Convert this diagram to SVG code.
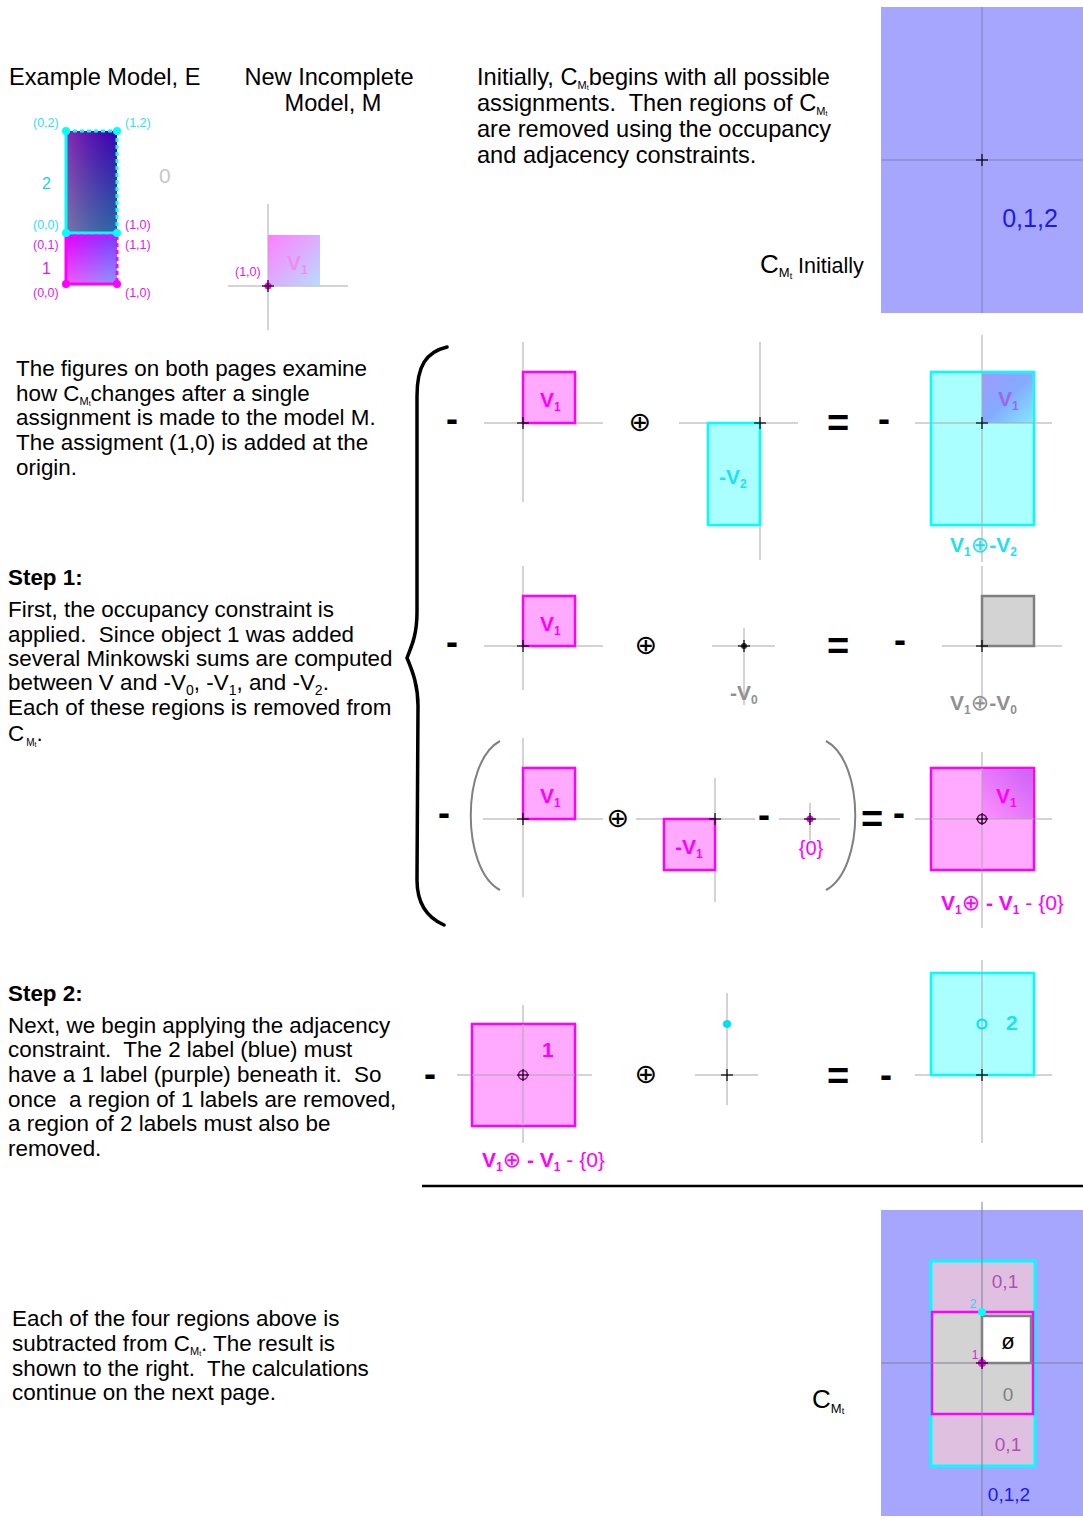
<svg xmlns="http://www.w3.org/2000/svg" xmlns:xlink="http://www.w3.org/1999/xlink" width="1083" height="1522" viewBox="0 0 1083 1522">
<defs>
<style>
.t{font-family:"Liberation Sans",Arial,sans-serif;font-size:22.4px;fill:#000;white-space:pre}
.h{font-size:23.6px}
.b{font-weight:bold}
.ax{stroke:#a8a8a8;stroke-width:1;fill:none}
.cr{stroke:#000;stroke-width:1.2;fill:none}
.mag{fill:#ffaaff;stroke:#ff00ff;stroke-width:2.5}
.cyn{fill:#aaffff;stroke:#00ffff;stroke-width:2.5}
.lbl{font-family:"Liberation Sans",Arial,sans-serif;font-weight:bold;font-size:21px}
.sm{font-family:"Liberation Sans",Arial,sans-serif;font-size:12.5px}
.op{font-family:"DejaVu Sans",sans-serif;font-size:27px;fill:#000}
.opi{font-family:"DejaVu Sans",sans-serif;font-size:22px;font-weight:normal}
.mi{font-family:"Liberation Sans",Arial,sans-serif;font-weight:bold;font-size:36px;fill:#000}
.eq{font-family:"Liberation Sans",Arial,sans-serif;font-weight:bold;font-size:38px;fill:#000}
.blue{fill:#a6a6ff}
</style>
<g id="cross"><line class="cr" x1="-6" y1="0" x2="6" y2="0"/><line class="cr" x1="0" y1="-6" x2="0" y2="6"/></g>
<linearGradient id="gTopV" x1="0" y1="0" x2="0" y2="1"><stop offset="0" stop-color="#5a00b0"/><stop offset="1" stop-color="#40a0a0"/></linearGradient>
<linearGradient id="gTopH" x1="0" y1="0" x2="1" y2="0"><stop offset="0" stop-color="#b050b0" stop-opacity="0.55"/><stop offset="1" stop-color="#0000b0" stop-opacity="0.35"/></linearGradient>
<linearGradient id="gBotV" x1="0" y1="0" x2="0" y2="1"><stop offset="0" stop-color="#c000ff"/><stop offset="1" stop-color="#e0c0ff"/></linearGradient>
<linearGradient id="gBotH" x1="0" y1="0" x2="1" y2="0"><stop offset="0" stop-color="#ff00ff" stop-opacity="0.55"/><stop offset="1" stop-color="#3070ff" stop-opacity="0.5"/></linearGradient>
<linearGradient id="gNew" x1="0" y1="0" x2="1" y2="1"><stop offset="0" stop-color="#ff70ff" stop-opacity="0.9"/><stop offset="1" stop-color="#b0d8ff" stop-opacity="0.9"/></linearGradient>
<linearGradient id="gR1" x1="0" y1="0" x2="1" y2="1"><stop offset="0" stop-color="#a088ff"/><stop offset="0.5" stop-color="#7c9cff"/><stop offset="1" stop-color="#7ce4ff"/></linearGradient>
<linearGradient id="gR3" x1="0" y1="1" x2="1" y2="0"><stop offset="0" stop-color="#ff88ff"/><stop offset="1" stop-color="#c050f4"/></linearGradient>
</defs>
<rect width="1083" height="1522" fill="#fff"/>

<!-- Top-left headings -->
<g id="headings">
<text class="t h" x="9" y="85">Example Model, E</text>
<text class="t h" x="329" y="85" text-anchor="middle">New Incomplete</text>
<text class="t h" x="333" y="111" text-anchor="middle">Model, M</text>
</g>

<!-- Example model E -->
<g id="example-model">
<rect x="66" y="131" width="51" height="102" fill="url(#gTopV)"/>
<rect x="66" y="131" width="51" height="102" fill="url(#gTopH)"/>
<rect x="66" y="234" width="51" height="50" fill="url(#gBotV)"/>
<rect x="66" y="234" width="51" height="50" fill="url(#gBotH)"/>
<g stroke="#00ffff" stroke-width="3" fill="none">
<line x1="66" y1="131" x2="66" y2="233"/><line x1="66" y1="233" x2="117" y2="233"/>
<line x1="66" y1="131" x2="117" y2="131" stroke-dasharray="4,3"/><line x1="117" y1="131" x2="117" y2="233" stroke-dasharray="4,3"/>
</g>
<g stroke="#ff00ff" stroke-width="3" fill="none">
<line x1="66" y1="235" x2="66" y2="284"/><line x1="66" y1="284" x2="117" y2="284"/>
<line x1="66" y1="236" x2="117" y2="236" stroke-dasharray="4,3"/><line x1="117" y1="236" x2="117" y2="284" stroke-dasharray="4,3"/>
</g>
<g fill="#00ffff"><circle cx="66" cy="131" r="4"/><circle cx="117" cy="131" r="4"/><circle cx="66" cy="233" r="4"/><circle cx="117" cy="233" r="4"/></g>
<g fill="#ff00ff"><circle cx="66" cy="284" r="4"/><circle cx="117" cy="284" r="4"/></g>
<g class="sm">
<text x="33" y="127" fill="#33ddee">(0,2)</text><text x="125" y="127" fill="#33ddee">(1,2)</text>
<text x="33" y="229" fill="#33ddee">(0,0)</text><text x="125" y="229" fill="#dd22dd">(1,0)</text>
<text x="33" y="249" fill="#dd22dd">(0,1)</text><text x="125" y="249" fill="#dd22dd">(1,1)</text>
<text x="33" y="297" fill="#dd22dd">(0,0)</text><text x="125" y="297" fill="#dd22dd">(1,0)</text>
</g>
<text x="42" y="189" font-family="Liberation Sans,Arial,sans-serif" font-size="16" fill="#22ccee">2</text>
<text x="42" y="274" font-family="Liberation Sans,Arial,sans-serif" font-size="16" fill="#dd22dd">1</text>
<text x="159" y="183" font-family="Liberation Sans,Arial,sans-serif" font-size="21" fill="#c8c8c8">0</text>
</g>

<!-- New incomplete model M -->
<g id="new-model">
<line class="ax" x1="268" y1="204" x2="268" y2="330"/>
<line class="ax" x1="228" y1="286" x2="348" y2="286"/>
<rect x="268" y="235" width="52" height="51" fill="url(#gNew)"/>
<text x="287" y="270" font-family="Liberation Sans,Arial,sans-serif" font-weight="bold" font-size="21" fill="#f08cf0">V<tspan font-size="12" dy="4">1</tspan></text>
<text class="sm" x="235" y="276" fill="#dd22dd">(1,0)</text>
<circle cx="268" cy="286" r="3.5" fill="#ff00ff"/>
<use xlink:href="#cross" x="268" y="286"/>
</g>

<!-- Top-right text -->
<g id="intro-text">
<text class="t h" x="477" y="85">Initially, C<tspan font-size="11" dy="4">M</tspan><tspan font-size="7" dy="1">t</tspan><tspan dy="-5">begins with all possible</tspan></text>
<text class="t h" x="477" y="111">assignments.  Then regions of C<tspan font-size="11" dy="4">M</tspan><tspan font-size="7" dy="1">t</tspan></text>
<text class="t h" x="477" y="137">are removed using the occupancy</text>
<text class="t h" x="477" y="163">and adjacency constraints.</text>
</g>

<!-- C_Mt initially -->
<g id="cmt-initial">
<rect class="blue" x="881" y="7" width="202" height="306"/>
<line x1="982" y1="7" x2="982" y2="313" stroke="#8080b0" stroke-width="1"/>
<line x1="881" y1="160" x2="1083" y2="160" stroke="#8080b0" stroke-width="1"/>
<use xlink:href="#cross" x="982" y="160"/>
<text x="1030" y="227" text-anchor="middle" font-family="Liberation Sans,Arial,sans-serif" font-size="25" fill="#1a1aee">0,1,2</text>
<text x="760" y="273" font-family="Liberation Sans,Arial,sans-serif" font-size="26">C<tspan font-size="13" dy="4">M</tspan><tspan font-size="9" dy="2">t</tspan><tspan font-size="21.5" dy="-6"> Initially</tspan></text>
</g>

<!-- Left paragraph -->
<g id="para-intro">
<text class="t" x="16" y="376">The figures on both pages examine</text>
<text class="t" x="16" y="401">how C<tspan font-size="11" dy="4">M</tspan><tspan font-size="7" dy="1">t</tspan><tspan dy="-5">changes after a single</tspan></text>
<text class="t" x="16" y="425">assignment is made to the model M.</text>
<text class="t" x="16" y="450">The assigment (1,0) is added at the</text>
<text class="t" x="16" y="475">origin.</text>
</g>

<g id="para-step1">
<text class="t b" x="8" y="585">Step 1:</text>
<text class="t" x="8" y="617">First, the occupancy constraint is</text>
<text class="t" x="8" y="642">applied.  Since object 1 was added</text>
<text class="t" x="8" y="666">several Minkowski sums are computed</text>
<text class="t" x="8" y="690">between V and -V<tspan font-size="14" dy="5">0</tspan><tspan dy="-5">, -V</tspan><tspan font-size="14" dy="5">1</tspan><tspan dy="-5">, and -V</tspan><tspan font-size="14" dy="5">2</tspan><tspan dy="-5">.</tspan></text>
<text class="t" x="8" y="715">Each of these regions is removed from</text>
<text class="t" x="8" y="741">C<tspan font-size="10" dy="5" dx="2">M</tspan><tspan font-size="7" dy="1">t</tspan><tspan dy="-6">.</tspan></text>
</g>

<g id="para-step2">
<text class="t b" x="8" y="1001">Step 2:</text>
<text class="t" x="8" y="1033">Next, we begin applying the adjacency</text>
<text class="t" x="8" y="1057">constraint.  The 2 label (blue) must</text>
<text class="t" x="8" y="1082">have a 1 label (purple) beneath it.  So</text>
<text class="t" x="8" y="1107">once  a region of 1 labels are removed,</text>
<text class="t" x="8" y="1131">a region of 2 labels must also be</text>
<text class="t" x="8" y="1156">removed.</text>
</g>

<g id="para-result">
<text class="t" x="12" y="1326">Each of the four regions above is</text>
<text class="t" x="12" y="1351">subtracted from C<tspan font-size="11" dy="4">M</tspan><tspan font-size="7" dy="1">t</tspan><tspan dy="-5">. The result is</tspan></text>
<text class="t" x="12" y="1376">shown to the right.  The calculations</text>
<text class="t" x="12" y="1400">continue on the next page.</text>
</g>

<!-- Big brace -->
<g id="brace">
<path d="M447 347 C426 352 417 366 417 396 L417 612 C417 636 411 647 407 658 C413 672 418 686 418 706 L417 880 C417 905 428 918 444 925" fill="none" stroke="#000" stroke-width="3.5" stroke-linecap="round"/>
</g>

<!-- Row 1: V1 (+) -V2 -->
<g id="row1">
<text class="mi" x="452" y="431" text-anchor="middle">-</text>
<line class="ax" x1="484" y1="423" x2="603" y2="423"/><line class="ax" x1="523" y1="342" x2="523" y2="502"/>
<rect class="mag" x="523" y="372" width="52" height="51"/>
<text class="lbl" x="540" y="407" fill="#ff00ff">V<tspan font-size="12" dy="4">1</tspan></text>
<use xlink:href="#cross" x="523" y="423"/>
<text class="op" x="640" y="431" text-anchor="middle">⊕</text>
<line class="ax" x1="679" y1="423" x2="798" y2="423"/><line class="ax" x1="760" y1="342" x2="760" y2="560"/>
<rect class="cyn" x="708" y="423" width="52" height="102"/>
<text class="lbl" x="719" y="484" fill="#22e0ee">-V<tspan font-size="12" dy="4">2</tspan></text>
<use xlink:href="#cross" x="760" y="423"/>
<text class="eq" x="838" y="436" text-anchor="middle">=</text>
<text class="mi" x="884" y="431" text-anchor="middle">-</text>
<line class="ax" x1="915" y1="423" x2="1052" y2="423"/><line class="ax" x1="982" y1="335" x2="982" y2="562"/>
<rect class="cyn" x="931" y="372" width="103" height="153"/>
<rect x="982" y="373.2" width="50.8" height="49.8" fill="url(#gR1)" opacity="0.85"/>
<line class="ax" x1="931" y1="423" x2="1034" y2="423"/><line class="ax" x1="982" y1="372" x2="982" y2="525"/>
<text class="lbl" x="998" y="406" fill="#a060f0" opacity="0.9">V<tspan font-size="12" dy="4">1</tspan></text>
<use xlink:href="#cross" x="982" y="423"/>
<text class="lbl" x="950" y="552" fill="#22e0ee">V<tspan font-size="12" dy="4">1</tspan><tspan class="opi" dy="-4">⊕</tspan><tspan>-V</tspan><tspan font-size="12" dy="4">2</tspan></text>
</g>

<!-- Row 2: V1 (+) -V0 -->
<g id="row2">
<text class="mi" x="452" y="654" text-anchor="middle">-</text>
<line class="ax" x1="484" y1="646" x2="603" y2="646"/><line class="ax" x1="523" y1="566" x2="523" y2="690"/>
<rect class="mag" x="523" y="596" width="52" height="50"/>
<text class="lbl" x="540" y="631" fill="#ff00ff">V<tspan font-size="12" dy="4">1</tspan></text>
<use xlink:href="#cross" x="523" y="646"/>
<text class="op" x="646" y="654" text-anchor="middle">⊕</text>
<line class="ax" x1="712" y1="646" x2="775" y2="646"/><line class="ax" x1="744" y1="628" x2="744" y2="705"/>
<circle cx="744" cy="646" r="3" fill="#333"/>
<use xlink:href="#cross" x="744" y="646"/>
<text class="lbl" x="730" y="700" fill="#909090">-V<tspan font-size="12" dy="4">0</tspan></text>
<text class="eq" x="838" y="659" text-anchor="middle">=</text>
<text class="mi" x="900" y="652" text-anchor="middle">-</text>
<line class="ax" x1="942" y1="646" x2="1062" y2="646"/><line class="ax" x1="982" y1="566" x2="982" y2="705"/>
<rect x="982" y="596" width="52" height="50" fill="#d3d3d3" stroke="#808080" stroke-width="2.5"/>
<use xlink:href="#cross" x="982" y="646"/>
<text class="lbl" x="950" y="710" fill="#909090">V<tspan font-size="12" dy="4">1</tspan><tspan class="opi" dy="-4">⊕</tspan><tspan>-V</tspan><tspan font-size="12" dy="4">0</tspan></text>
</g>

<!-- Row 3: (V1 (+) -V1 - {0}) -->
<g id="row3">
<text class="mi" x="444" y="825" text-anchor="middle">-</text>
<path d="M500 741 C461 762 461 869 500 890" fill="none" stroke="#808080" stroke-width="2"/>
<path d="M826 741 C865 762 865 869 826 890" fill="none" stroke="#808080" stroke-width="2"/>
<line class="ax" x1="483" y1="819" x2="603" y2="819"/><line class="ax" x1="523" y1="738" x2="523" y2="897"/>
<rect class="mag" x="523" y="768" width="52" height="51"/>
<text class="lbl" x="540" y="803" fill="#ff00ff">V<tspan font-size="12" dy="4">1</tspan></text>
<use xlink:href="#cross" x="523" y="819"/>
<text class="op" x="618" y="827" text-anchor="middle">⊕</text>
<line class="ax" x1="636" y1="819" x2="755" y2="819"/><line class="ax" x1="715" y1="778" x2="715" y2="902"/>
<rect class="mag" x="664" y="819" width="51" height="51"/>
<text class="lbl" x="675" y="854" fill="#ff00ff">-V<tspan font-size="12" dy="4">1</tspan></text>
<use xlink:href="#cross" x="715" y="819"/>
<text class="mi" x="764" y="827" text-anchor="middle">-</text>
<line class="ax" x1="779" y1="819" x2="840" y2="819"/><line class="ax" x1="810" y1="803" x2="810" y2="840"/>
<circle cx="810" cy="819" r="3.5" fill="#ff00ff"/>
<use xlink:href="#cross" x="810" y="819"/>
<text x="811" y="855" text-anchor="middle" font-family="Liberation Sans,Arial,sans-serif" font-size="20" fill="#ff00ff">{0}</text>
<text class="eq" x="872" y="832" text-anchor="middle">=</text>
<text class="mi" x="899" y="825" text-anchor="middle">-</text>
<line class="ax" x1="915" y1="819" x2="1052" y2="819"/><line class="ax" x1="982" y1="752" x2="982" y2="928"/>
<rect class="mag" x="931" y="768" width="103" height="102"/>
<rect x="982" y="769.2" width="50.8" height="49.8" fill="url(#gR3)" opacity="0.8"/>
<line class="ax" x1="931" y1="819" x2="1034" y2="819"/><line class="ax" x1="982" y1="768" x2="982" y2="870"/>
<text class="lbl" x="996" y="803" fill="#ff00ff">V<tspan font-size="12" dy="4">1</tspan></text>
<circle cx="982" cy="819" r="4.5" fill="none" stroke="#600060" stroke-width="1.5"/>
<use xlink:href="#cross" x="982" y="819"/>
<text class="lbl" x="941" y="910" fill="#ff00ff">V<tspan font-size="12" dy="4">1</tspan><tspan class="opi" dy="-4">⊕</tspan><tspan> - V</tspan><tspan font-size="12" dy="4">1</tspan><tspan font-weight="normal" dy="-4"> - {0}</tspan></text>
</g>

<!-- Step 2 row -->
<g id="row4">
<text class="mi" x="430" y="1086" text-anchor="middle">-</text>
<line class="ax" x1="457" y1="1075" x2="592" y2="1075"/><line class="ax" x1="523" y1="1005" x2="523" y2="1143"/>
<rect class="mag" x="472" y="1024" width="103" height="102"/>
<line class="ax" x1="472" y1="1075" x2="575" y2="1075"/><line class="ax" x1="523" y1="1024" x2="523" y2="1126"/>
<text class="lbl" x="542" y="1057" fill="#ff00ff">1</text>
<circle cx="523" cy="1075" r="4.5" fill="none" stroke="#a000a0" stroke-width="1.5"/>
<use xlink:href="#cross" x="523" y="1075"/>
<text class="lbl" x="482" y="1167" fill="#ff00ff">V<tspan font-size="12" dy="4">1</tspan><tspan class="opi" dy="-4">⊕</tspan><tspan> - V</tspan><tspan font-size="12" dy="4">1</tspan><tspan font-weight="normal" dy="-4"> - {0}</tspan></text>
<text class="op" x="646" y="1083" text-anchor="middle">⊕</text>
<line class="ax" x1="695" y1="1075" x2="758" y2="1075"/><line class="ax" x1="727" y1="993" x2="727" y2="1105"/>
<circle cx="727" cy="1024" r="4" fill="#00e0f0"/>
<use xlink:href="#cross" x="727" y="1075"/>
<text class="eq" x="838" y="1089" text-anchor="middle">=</text>
<text class="mi" x="886" y="1087" text-anchor="middle">-</text>
<line class="ax" x1="915" y1="1075" x2="1052" y2="1075"/><line class="ax" x1="982" y1="960" x2="982" y2="1143"/>
<rect class="cyn" x="931" y="973" width="103" height="102"/>
<line class="ax" x1="982" y1="973" x2="982" y2="1075"/>
<circle cx="982" cy="1024" r="4.5" fill="none" stroke="#00e0f0" stroke-width="2"/>
<text class="lbl" x="1006" y="1030" fill="#22e0ee">2</text>
<use xlink:href="#cross" x="982" y="1075"/>
<line x1="422" y1="1186" x2="1083" y2="1186" stroke="#000" stroke-width="2.5"/>
</g>

<!-- Result C_Mt -->
<g id="cmt-result">
<rect class="blue" x="881" y="1210" width="202" height="306"/>
<rect x="931" y="1261" width="104" height="205" fill="#e0c0e0" stroke="#00ffff" stroke-width="3"/>
<rect x="932" y="1312" width="101" height="102" fill="#d3d3d3" stroke="#ff00ff" stroke-width="2.5"/>
<rect x="982" y="1316" width="49" height="47" fill="#fff" stroke="#808080" stroke-width="2.5"/>
<line x1="982" y1="1202" x2="982" y2="1516" stroke="#808090" stroke-width="1"/>
<line x1="881" y1="1363" x2="1083" y2="1363" stroke="#808090" stroke-width="1"/>
<g font-family="Liberation Sans,Arial,sans-serif" font-size="19">
<text x="1005" y="1288" text-anchor="middle" fill="#b050b0">0,1</text>
<text x="1008" y="1451" text-anchor="middle" fill="#b050b0">0,1</text>
<text x="1008" y="1401" text-anchor="middle" fill="#808080">0</text>
<text x="1009" y="1501" text-anchor="middle" fill="#1a1aee">0,1,2</text>
<text x="1008" y="1349" text-anchor="middle" fill="#000" font-size="22">ø</text>
</g>
<text x="973" y="1308" text-anchor="middle" font-family="Liberation Sans,Arial,sans-serif" font-size="12" fill="#33ccee">2</text>
<text x="975" y="1359" text-anchor="middle" font-family="Liberation Sans,Arial,sans-serif" font-size="12" fill="#dd22dd">1</text>
<circle cx="982" cy="1312" r="4" fill="#00ffff"/>
<circle cx="982" cy="1363" r="4" fill="#ff00ff"/>
<use xlink:href="#cross" x="982" y="1363"/>
<text x="812" y="1408" font-family="Liberation Sans,Arial,sans-serif" font-size="26">C<tspan font-size="13" dy="5">M</tspan><tspan font-size="9" dy="1">t</tspan></text>
</g>
</svg>
